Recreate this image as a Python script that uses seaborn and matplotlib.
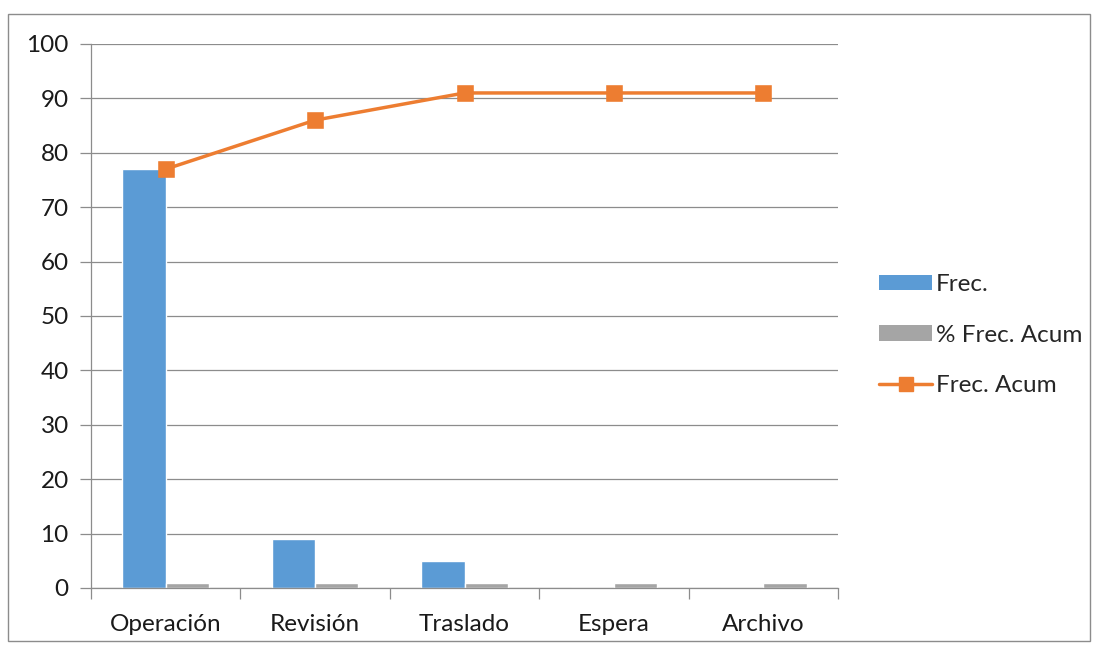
import matplotlib
matplotlib.use("Agg")
import matplotlib.pyplot as plt
import seaborn as sns
import pandas as pd
from matplotlib.patches import Rectangle
from matplotlib.lines import Line2D
from matplotlib.patches import Patch
from matplotlib.ticker import FixedLocator

categories = ["Operación", "Revisión", "Traslado", "Espera", "Archivo"]
frec = [77, 9, 5, 0, 0]
pct_frec_acum = [0.85, 0.95, 1.0, 1.0, 1.0]
frec_acum = [77, 86, 91, 91, 91]

BLUE = "#5B9BD5"
GRAY = "#A5A5A5"
ORANGE = "#ED7D31"
GRID = "#8C8C8C"
FS = 17.5

sns.set_theme(style="white")
plt.rcParams["font.family"] = ["Lato", "DejaVu Sans"]

fig = plt.figure(figsize=(10.97, 6.48), dpi=100)
ax = fig.add_axes([91/1097, 1-588/648, (838-91)/1097, (588-44)/648])

df = pd.DataFrame({
    "cat": categories * 2,
    "val": frec + pct_frec_acum,
    "serie": ["Frec."] * 5 + ["% Frec. Acum"] * 5,
})
sns.barplot(data=df, x="cat", y="val", hue="serie", order=categories,
            hue_order=["Frec.", "% Frec. Acum"], palette=[BLUE, GRAY],
            width=0.58, saturation=1, ax=ax, legend=False)
sns.pointplot(x=categories, y=frec_acum, order=categories, color=ORANGE,
              markers="s", markersize=9.5, linewidth=2.5, ax=ax)

ax.set_xlim(-0.5, 4.5)
ax.set_ylim(0, 100)
ax.set_yticks(range(0, 101, 10))
ax.set_xlabel("")
ax.set_ylabel("")
ax.grid(axis="y", color=GRID, linewidth=0.9)
ax.set_axisbelow(True)
for s in ["top", "right"]:
    ax.spines[s].set_visible(False)
for s in ["left", "bottom"]:
    ax.spines[s].set_color(GRID)
    ax.spines[s].set_linewidth(0.9)
ax.tick_params(axis="y", which="major", length=8, color=GRID, width=0.9,
               labelsize=FS, pad=8, left=True)
ax.tick_params(axis="x", which="major", length=0, labelsize=FS, pad=19)
ax.xaxis.set_minor_locator(FixedLocator([i - 0.5 for i in range(6)]))
ax.tick_params(axis="x", which="minor", length=8, color=GRID, width=0.9,
               bottom=True)
for lbl in ax.get_xticklabels() + ax.get_yticklabels():
    lbl.set_color("#1a1a1a")

handles = [
    Patch(facecolor=BLUE, edgecolor="none"),
    Patch(facecolor=GRAY, edgecolor="none"),
    Line2D([0], [0], color=ORANGE, linewidth=2.5, marker="s", markersize=9.5),
]
fig.legend(handles, ["Frec.", "% Frec. Acum", "Frec. Acum"],
           loc="center left", bbox_to_anchor=(879/1097, 1-335/648),
           frameon=False, fontsize=FS, handlelength=2.2, handleheight=0.6,
           handletextpad=0.15, labelspacing=1.2, borderaxespad=0,
           borderpad=0)

fig.add_artist(Rectangle((8/1097, 1-641/648), (1090-8)/1097, (641-14)/648,
                         transform=fig.transFigure, fill=False,
                         edgecolor="#8C8C8C", linewidth=1.0))

fig.savefig("out.png", dpi=100, facecolor="white")
